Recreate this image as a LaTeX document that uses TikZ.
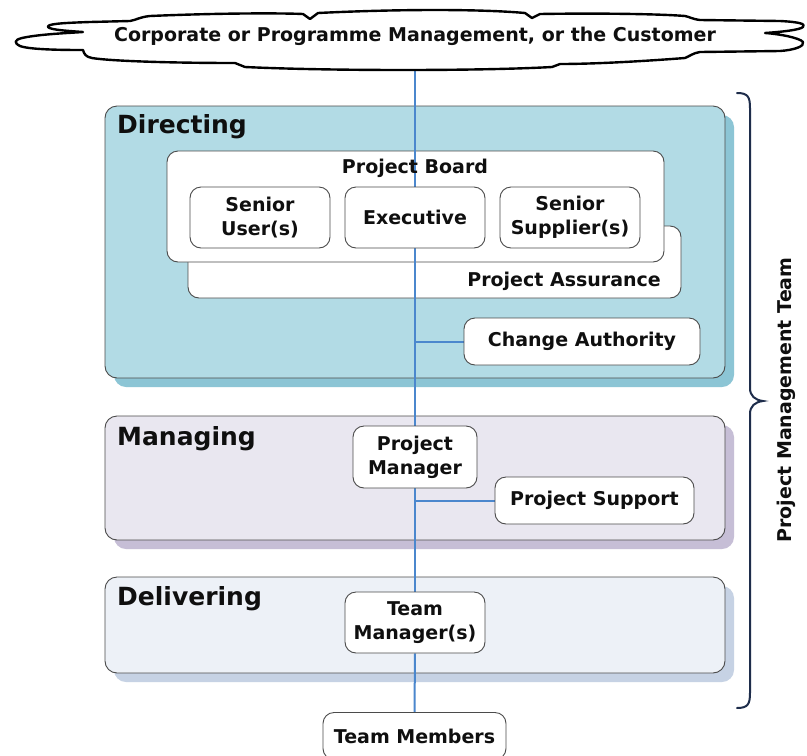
\documentclass[tikz,border=0pt]{standalone}
\usepackage{fontspec}
\setmainfont{DejaVu Sans}
\usetikzlibrary{shadows}
\pgfdeclarelayer{bg}
\pgfdeclarelayer{mid}
\pgfsetlayers{bg,mid,main}
\definecolor{dirfill}{RGB}{178,219,229}
\definecolor{dirshadow}{RGB}{140,197,213}
\definecolor{manfill}{RGB}{233,231,240}
\definecolor{manshadow}{RGB}{198,190,214}
\definecolor{delfill}{RGB}{237,241,247}
\definecolor{delshadow}{RGB}{198,210,228}
\definecolor{lineblue}{RGB}{75,135,205}
\definecolor{bracecol}{RGB}{30,45,75}
\definecolor{boxline}{RGB}{75,75,75}
\definecolor{txt}{RGB}{15,15,15}
\newcommand\boxfont{\bfseries\fontsize{19}{24}\selectfont}
\newcommand\titlefont{\bfseries\fontsize{25}{30}\selectfont}
\tikzset{
  zone/.style={draw=boxline, line width=0.9pt, rounded corners=12pt, minimum width=620pt, inner sep=0pt},
  box/.style={draw=boxline, line width=0.9pt, fill=white, rounded corners=11pt, inner sep=0pt, align=center, font=\boxfont, text=txt},
  lbl/.style={font=\boxfont, text=txt, inner sep=0pt, align=center},
  zonetitle/.style={font=\titlefont, text=txt, inner sep=0pt, anchor=base west},
  conn/.style={draw=lineblue, line width=2pt},
}
\begin{document}
\begin{tikzpicture}[x=1pt,y=-1pt]
\useasboundingbox (0,0) rectangle (807,756);

\begin{pgfonlayer}{bg}
\fill[white] (0,0) rectangle (807,756);
\node[zone, fill=dirfill, minimum height=272pt, general shadow={fill=dirshadow, shadow xshift=9pt, shadow yshift=-9pt}] (dir) at (415,242) {};
\node[zone, fill=manfill, minimum height=124pt, general shadow={fill=manshadow, shadow xshift=9pt, shadow yshift=-9pt}] (man) at (415,478) {};
\node[zone, fill=delfill, minimum height=96pt, general shadow={fill=delshadow, shadow xshift=9pt, shadow yshift=-9pt}] (del) at (415,625) {};
\node[box, minimum width=493pt, minimum height=72pt] (pa) at (434.5,262) {};
\node[box, minimum width=497pt, minimum height=111pt] (pb) at (415.5,206.5) {};
\end{pgfonlayer}

% cloud
\draw[line width=2.4pt, fill=white, line join=round]
  (83,32) .. controls (70,31) and (50,30) .. (48,27)
  .. controls (47,24) and (60,23) .. (90,22) -- (130,21)
  .. controls (136,20) and (140,17) .. (150,16)
  .. controls (220,13) and (280,13) .. (303,14) -- (310,19) -- (318,13)
  .. controls (400,9) and (480,9) .. (525,13) -- (532,18) -- (540,14)
  .. controls (600,13) and (660,14) .. (685,16)
  .. controls (690,17) and (692,19) .. (700,20) -- (780,21)
  .. controls (800,22) and (806,24) .. (803,27)
  .. controls (800,30) and (780,32) .. (765,33)
  .. controls (780,34) and (800,38) .. (803,42)
  .. controls (805,46) and (795,50) .. (780,51) -- (700,52)
  .. controls (693,53) and (690,56) .. (685,58)
  .. controls (620,63) and (580,64) .. (560,64) -- (552,67)
  .. controls (480,71) and (330,71) .. (245,67) -- (235,63)
  .. controls (170,63) and (110,61) .. (92,58)
  .. controls (86,57) and (84,54) .. (83,50)
  .. controls (70,50) and (30,50) .. (20,46)
  .. controls (14,43) and (14,40) .. (22,38)
  .. controls (40,34) and (70,33) .. (83,32) -- cycle;
\node[lbl] (cloud) at (415,36) {Corporate or Programme Management, or the Customer};
\coordinate (cloudb) at (415,68);

\node[zonetitle] (dirT) at (117,133) {Directing};
\node[zonetitle] (manT) at (117,445) {Managing};
\node[zonetitle] (delT) at (117,605) {Delivering};

\node[lbl] (pbT) at (415,168) {Project Board};
\node[lbl, anchor=east] (paT) at (661,281) {Project Assurance};

\node[box, minimum width=140pt, minimum height=61pt] (su) at (260,217.5) {Senior\\User(s)};
\node[box, minimum width=140pt, minimum height=61pt] (exec) at (415,217.5) {Executive};
\node[box, minimum width=140pt, minimum height=61pt] (ss) at (570,217.5) {Senior\\Supplier(s)};
\node[box, minimum width=236pt, minimum height=47pt] (ca) at (582,341.5) {Change Authority};
\node[box, minimum width=124pt, minimum height=62pt] (pm) at (415,457) {Project\\Manager};
\node[box, minimum width=199pt, minimum height=47pt] (ps) at (594.5,500.5) {Project Support};
\node[box, minimum width=140pt, minimum height=61pt] (tm) at (415,622.5) {Team\\Manager(s)};
\node[box, minimum width=183pt, minimum height=47pt] (tmem) at (414.5,736) {Team Members};

\begin{pgfonlayer}{mid}
\draw[conn] (cloudb) -- (exec.north);
\draw[conn] (exec.south) -- (pm.north);
\draw[conn] (pm.south) -- (tm.north);
\draw[conn] (tm.south) -- (tmem.north);
\draw[conn] (exec.south |- ca.west) -- (ca.west);
\draw[conn] (pm.south |- ps.west) -- (ps.west);
\end{pgfonlayer}

% brace
\draw[bracecol, line width=2pt, line cap=round]
  (737,93) .. controls (748,93) and (750,97) .. (750,108) -- (750,388)
  .. controls (750,396) and (755,400) .. (763,401)
  .. controls (755,402) and (750,406) .. (750,414) -- (750,693)
  .. controls (750,704) and (748,708) .. (737,708);
\node[lbl, rotate=90] (pmt) at (786,400) {Project Management Team};
\end{tikzpicture}
\end{document}
